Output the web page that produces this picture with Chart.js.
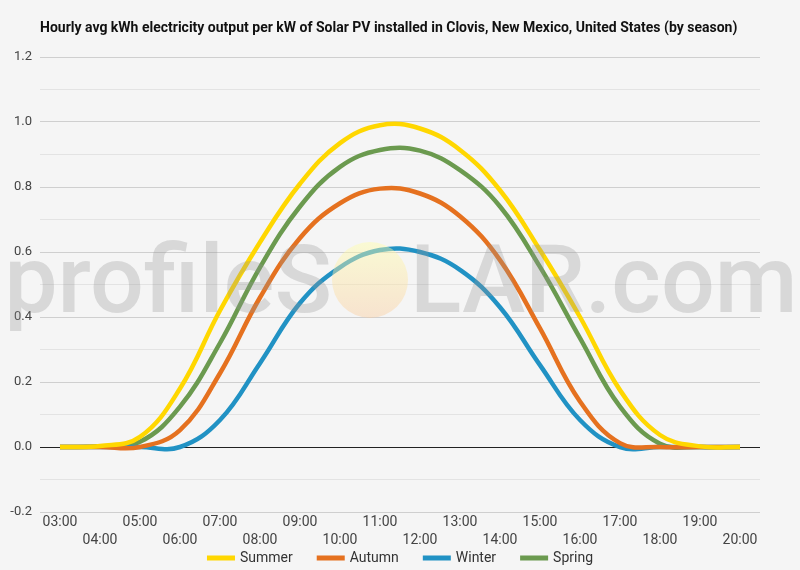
<!DOCTYPE html>
<html>
  <head>
    <title>Clovis solar output by season</title>
    <script src="https://cdn.jsdelivr.net/npm/chart.js@4.4.1/dist/chart.umd.min.js"></script>
    <style>
      html, body { margin: 0; padding: 0; background: #f5f5f5; }
      #wrap { width: 800px; height: 570px; }
    </style>
  </head>

  <body>
    <div id="wrap"><canvas id="myChart" width="800" height="570"></canvas></div>
    <script>
      const hours = ['03:00', '04:00', '05:00', '06:00', '07:00', '08:00', '09:00', '10:00', '11:00',
                     '12:00', '13:00', '14:00', '15:00', '16:00', '17:00', '18:00', '19:00', '20:00'];

      const summer = [0, 0.003, 0.031, 0.18, 0.42, 0.63, 0.81, 0.935, 0.99, 0.98, 0.914, 0.79, 0.606, 0.40, 0.175, 0.037, 0.002, 0];
      const autumn = [0, 0, 0, 0.052, 0.227, 0.46, 0.643, 0.75, 0.795, 0.78, 0.71, 0.575, 0.365, 0.14, 0.012, 0, 0, 0];
      const winter = [0, 0, 0, 0, 0.083, 0.258, 0.443, 0.553, 0.606, 0.60, 0.545, 0.43, 0.252, 0.083, 0, 0, 0, 0];
      const spring = [0, 0.002, 0.016, 0.124, 0.32, 0.553, 0.74, 0.862, 0.914, 0.912, 0.852, 0.74, 0.554, 0.335, 0.124, 0.01, 0, 0];

      const titleText = 'Hourly avg kWh electricity output per kW of Solar PV installed in Clovis, New Mexico, United States (by season)';

      const bgPlugin = {
        id: 'bg',
        beforeDraw(chart) {
          const c = chart.ctx;
          c.save();
          c.fillStyle = '#f5f5f5';
          c.fillRect(0, 0, chart.width, chart.height);
          c.font = 'bold 14px Roboto';
          c.fillStyle = '#111';
          c.textBaseline = 'middle';
          c.fillText(titleText, 40, 28);
          c.restore();
        }
      };

      // profileSOLAR watermark sits over the lines
      const markPlugin = {
        id: 'mark',
        afterDatasetsDraw(chart) {
          const c = chart.ctx;
          c.save();
          c.font = '500 95px Roboto';
          c.fillStyle = 'rgba(150,150,150,0.3)';
          c.textBaseline = 'alphabetic';
          c.textAlign = 'right';
          c.fillText('profileS', 332, 312);
          c.textAlign = 'left';
          c.fillText('LAR.com', 410, 312);
          const g = c.createLinearGradient(0, 242, 0, 318);
          g.addColorStop(0, 'rgba(255,255,170,0.45)');
          g.addColorStop(1, 'rgba(250,205,160,0.45)');
          c.fillStyle = g;
          c.beginPath();
          c.arc(370, 280, 38, 0, Math.PI * 2);
          c.fill();
          c.restore();
        }
      };

      // legend drawn by hand so item spacing can match
      const legendPlugin = {
        id: 'bottomLegend',
        afterDraw(chart) {
          const c = chart.ctx;
          const sets = chart.data.datasets;
          c.save();
          c.font = '14px Roboto';
          c.textBaseline = 'middle';
          const box = 28, gap = 5, space = 24;
          const widths = sets.map(d => box + gap + c.measureText(d.label).width);
          const total = widths.reduce((a, b) => a + b, 0) + space * (sets.length - 1);
          let x = 400 - total / 2;
          const y = 558;
          sets.forEach((d, i) => {
            c.fillStyle = d.borderColor;
            c.fillRect(x, y - 2.5, box, 5);
            c.fillStyle = '#333';
            c.fillText(d.label, x + box + gap, y);
            x += widths[i] + space;
          });
          c.restore();
        }
      };

      const ds = (label, data, color) => ({
        label: label,
        data: data,
        borderColor: color,
        backgroundColor: color,
        borderWidth: 4.5,
        pointRadius: 0,
        tension: 0.4,
        fill: false
      });

      var ctx = document.getElementById('myChart');
      var myChart = new Chart(ctx, {
        type: 'line',
        data: {
          labels: hours,
          datasets: [
            ds('Summer', summer, '#ffd700'),
            ds('Autumn', autumn, '#e5711f'),
            ds('Winter', winter, '#2192c4'),
            ds('Spring', spring, '#6b9a4f'),
          ],
        },
        options: {
          responsive: false,
          animation: false,
          devicePixelRatio: 1,
          layout: { padding: { top: 57, right: 40, left: 0, bottom: 0 } },
          plugins: {
            title: { display: false },
            tooltip: { enabled: false },
            legend: { display: false }
          },
          scales: {
            x: {
              offset: true,
              grid: { display: false, drawTicks: false },
              border: { display: false },
              ticks: {
                autoSkip: false,
                maxRotation: 0,
                padding: 1,
                color: '#444',
                font: { family: 'Roboto', size: 14, lineHeight: 1.3 },
                callback: function (v, i) {
                  const l = this.getLabelForValue(v);
                  return i % 2 ? ['', l] : l;
                }
              },
              afterFit: s => { s.height = 58; }
            },
            y: {
              min: -0.2,
              max: 1.2,
              border: { display: false },
              grid: {
                drawTicks: false,
                lineWidth: 1,
                color: c => {
                  const t = Math.round(c.tick.value * 10);
                  if (t === 0) return '#222';
                  return t % 2 === 0 ? '#cfcfcf' : '#e3e3e3';
                }
              },
              ticks: {
                stepSize: 0.1,
                padding: 8,
                color: '#444',
                font: { family: 'Roboto', size: 13 },
                callback: v => {
                  const t = Math.round(v * 10);
                  return t % 2 === 0 ? (t / 10).toFixed(1) : '';
                }
              },
              afterFit: s => { s.width = 40; }
            }
          }
        },
        plugins: [bgPlugin, markPlugin, legendPlugin]
      });
    </script>
  </body>
</html>
